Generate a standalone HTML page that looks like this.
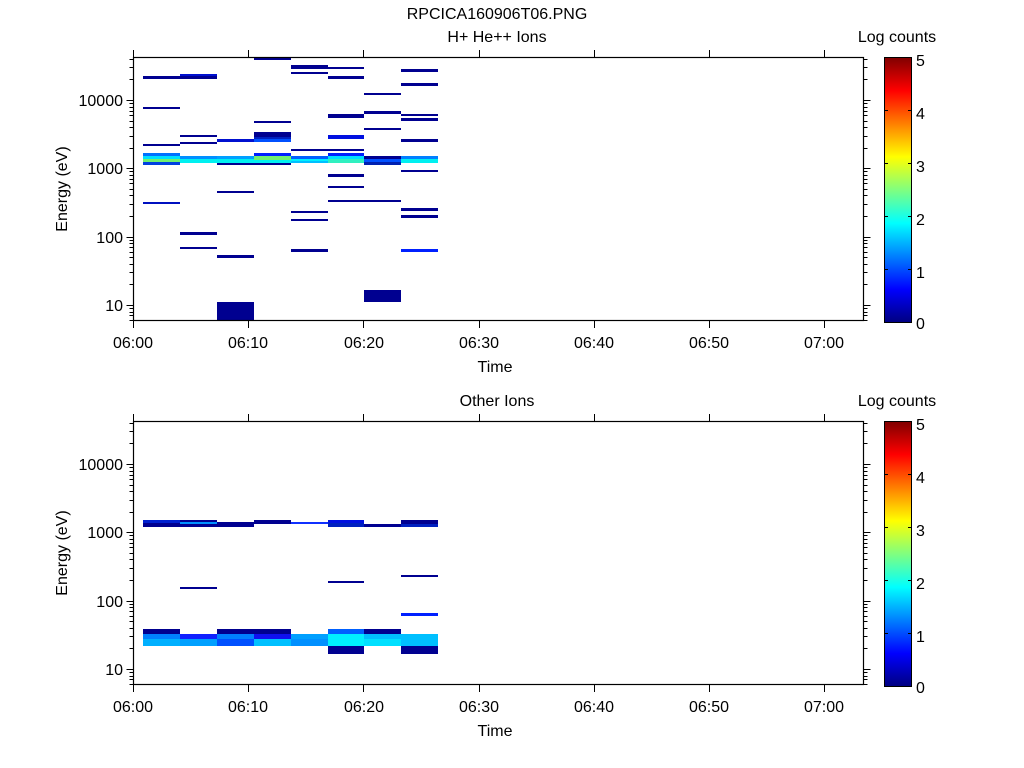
<!DOCTYPE html>
<html><head><meta charset="utf-8"><style>
html,body{margin:0;padding:0;background:#fff;width:1024px;height:768px;overflow:hidden}
svg{display:block}
text{font-family:"Liberation Sans",sans-serif;font-size:16px;fill:#000}
</style></head><body>
<svg id="s" width="1024" height="768" viewBox="0 0 1024 768">
<defs>
<linearGradient id="jet" x1="0" y1="1" x2="0" y2="0">
<stop offset="0" stop-color="#000080"/><stop offset="0.125" stop-color="#0000ff"/>
<stop offset="0.375" stop-color="#00ffff"/><stop offset="0.625" stop-color="#ffff00"/>
<stop offset="0.875" stop-color="#ff0000"/><stop offset="1" stop-color="#800000"/>
</linearGradient>
</defs>
<text x="497" y="19" text-anchor="middle">RPCICA160906T06.PNG</text>
<g id="b1" shape-rendering="crispEdges">
<rect x="143" y="76" width="37" height="3" fill="#000090"/>
<rect x="143" y="107" width="37" height="2" fill="#000090"/>
<rect x="143" y="144" width="37" height="2" fill="#000090"/>
<rect x="143" y="153" width="37" height="3" fill="#0070ff"/>
<rect x="143" y="156" width="37" height="3" fill="#00e0ff"/>
<rect x="143" y="159" width="37" height="3" fill="#70f070"/>
<rect x="143" y="162" width="37" height="3" fill="#0040e0"/>
<rect x="143" y="202" width="37" height="2" fill="#0010c0"/>

<rect x="180" y="74" width="37" height="2" fill="#0010d0"/>
<rect x="180" y="76" width="37" height="3" fill="#000090"/>
<rect x="180" y="135" width="37" height="2" fill="#000090"/>
<rect x="180" y="142" width="37" height="2" fill="#000090"/>
<rect x="180" y="156" width="37" height="3" fill="#0090ff"/>
<rect x="180" y="159" width="37" height="4" fill="#00f0f0"/>
<rect x="180" y="232" width="37" height="3" fill="#000090"/>
<rect x="180" y="247" width="37" height="2" fill="#000090"/>

<rect x="217" y="139" width="37" height="3" fill="#0010d0"/>
<rect x="217" y="156" width="37" height="3" fill="#00a0ff"/>
<rect x="217" y="159" width="37" height="4" fill="#00f0f0"/>
<rect x="217" y="163" width="37" height="2" fill="#000090"/>
<rect x="217" y="191" width="37" height="2" fill="#000090"/>
<rect x="217" y="255" width="37" height="3" fill="#000090"/>
<rect x="217" y="302" width="37" height="18" fill="#000090"/>

<rect x="254" y="57" width="37" height="3" fill="#000090"/>
<rect x="254" y="121" width="37" height="2" fill="#000090"/>
<rect x="254" y="132" width="37" height="5" fill="#000090"/>
<rect x="254" y="137" width="37" height="2" fill="#0020c0"/>
<rect x="254" y="139" width="37" height="3" fill="#0050ff"/>
<rect x="254" y="153" width="37" height="3" fill="#0020ff"/>
<rect x="254" y="156" width="37" height="4" fill="#70f070"/>
<rect x="254" y="160" width="37" height="3" fill="#00f0f0"/>
<rect x="254" y="163" width="37" height="2" fill="#000090"/>

<rect x="291" y="65" width="37" height="4" fill="#000090"/>
<rect x="291" y="72" width="37" height="2" fill="#000090"/>
<rect x="291" y="149" width="37" height="2" fill="#000090"/>
<rect x="291" y="156" width="37" height="3" fill="#0060ff"/>
<rect x="291" y="159" width="37" height="2" fill="#00f0ff"/>
<rect x="291" y="161" width="37" height="2" fill="#00c0ff"/>
<rect x="291" y="211" width="37" height="2" fill="#000090"/>
<rect x="291" y="219" width="37" height="2" fill="#000090"/>
<rect x="291" y="249" width="37" height="3" fill="#000090"/>

<rect x="328" y="67" width="36" height="2" fill="#000090"/>
<rect x="328" y="76" width="36" height="3" fill="#000090"/>
<rect x="328" y="114" width="36" height="4" fill="#000090"/>
<rect x="328" y="135" width="36" height="4" fill="#0010e0"/>
<rect x="328" y="149" width="36" height="2" fill="#000090"/>
<rect x="328" y="153" width="36" height="3" fill="#0020ff"/>
<rect x="328" y="156" width="36" height="3" fill="#00e0ff"/>
<rect x="328" y="159" width="36" height="4" fill="#30f0c0"/>
<rect x="328" y="174" width="36" height="3" fill="#000090"/>
<rect x="328" y="186" width="36" height="2" fill="#000090"/>
<rect x="328" y="200" width="36" height="2" fill="#000090"/>

<rect x="364" y="93" width="37" height="2" fill="#000090"/>
<rect x="364" y="111" width="37" height="3" fill="#000090"/>
<rect x="364" y="128" width="37" height="2" fill="#000090"/>
<rect x="364" y="156" width="37" height="3" fill="#000090"/>
<rect x="364" y="159" width="37" height="3" fill="#0050ff"/>
<rect x="364" y="162" width="37" height="3" fill="#0020b0"/>
<rect x="364" y="200" width="37" height="2" fill="#000090"/>
<rect x="364" y="290" width="37" height="12" fill="#000090"/>

<rect x="401" y="69" width="37" height="3" fill="#000090"/>
<rect x="401" y="83" width="37" height="3" fill="#000090"/>
<rect x="401" y="114" width="37" height="2" fill="#000090"/>
<rect x="401" y="118" width="37" height="3" fill="#000090"/>
<rect x="401" y="139" width="37" height="3" fill="#000090"/>
<rect x="401" y="156" width="37" height="3" fill="#0080ff"/>
<rect x="401" y="159" width="37" height="4" fill="#00f0f0"/>
<rect x="401" y="170" width="37" height="2" fill="#000090"/>
<rect x="401" y="208" width="37" height="3" fill="#000090"/>
<rect x="401" y="215" width="37" height="3" fill="#000090"/>
<rect x="401" y="249" width="37" height="3" fill="#0020ff"/>
</g>
<g shape-rendering="crispEdges">
<rect x="143" y="520" width="37" height="3" fill="#0020d0"/>
<rect x="143" y="523" width="37" height="4" fill="#000090"/>
<rect x="143" y="629" width="37" height="5" fill="#000090"/>
<rect x="143" y="634" width="37" height="5" fill="#0080ff"/>
<rect x="143" y="639" width="37" height="7" fill="#00b0ff"/>

<rect x="180" y="520" width="37" height="2" fill="#000090"/>
<rect x="180" y="522" width="37" height="2" fill="#0090ff"/>
<rect x="180" y="524" width="37" height="3" fill="#000090"/>
<rect x="180" y="587" width="37" height="2" fill="#000090"/>
<rect x="180" y="634" width="37" height="5" fill="#1020ff"/>
<rect x="180" y="639" width="37" height="7" fill="#00a0ff"/>

<rect x="217" y="522" width="37" height="5" fill="#000090"/>
<rect x="217" y="629" width="37" height="5" fill="#000090"/>
<rect x="217" y="634" width="37" height="5" fill="#0080ff"/>
<rect x="217" y="639" width="37" height="7" fill="#0050ff"/>

<rect x="254" y="520" width="37" height="4" fill="#000090"/>
<rect x="254" y="629" width="37" height="5" fill="#000090"/>
<rect x="254" y="634" width="37" height="5" fill="#1010f0"/>
<rect x="254" y="639" width="37" height="7" fill="#00c0ff"/>

<rect x="291" y="522" width="37" height="2" fill="#1030ff"/>
<rect x="291" y="634" width="37" height="5" fill="#00a0ff"/>
<rect x="291" y="639" width="37" height="7" fill="#0090ff"/>

<rect x="328" y="520" width="36" height="3" fill="#0010e0"/>
<rect x="328" y="523" width="36" height="4" fill="#0020c0"/>
<rect x="328" y="581" width="36" height="2" fill="#000090"/>
<rect x="328" y="629" width="36" height="5" fill="#0060ff"/>
<rect x="328" y="634" width="36" height="12" fill="#00f0ff"/>
<rect x="328" y="646" width="36" height="8" fill="#000090"/>

<rect x="364" y="524" width="37" height="3" fill="#000090"/>
<rect x="364" y="629" width="37" height="5" fill="#000090"/>
<rect x="364" y="634" width="37" height="5" fill="#00c0ff"/>
<rect x="364" y="639" width="37" height="7" fill="#00e0ff"/>

<rect x="401" y="520" width="37" height="4" fill="#000090"/>
<rect x="401" y="524" width="37" height="3" fill="#0020c0"/>
<rect x="401" y="575" width="37" height="2" fill="#000090"/>
<rect x="401" y="613" width="37" height="3" fill="#0020ff"/>
<rect x="401" y="634" width="37" height="12" fill="#00c0ff"/>
<rect x="401" y="646" width="37" height="8" fill="#000090"/>
</g>

<g id="ax1"></g>
<g id="ax2" transform="translate(0,364)"></g>

<text x="497" y="42" text-anchor="middle">H+ He++ Ions</text>
<text x="897" y="42" text-anchor="middle">Log counts</text>
<text x="123" y="106" text-anchor="end">10000</text>
<text x="123" y="174" text-anchor="end">1000</text>
<text x="123" y="243" text-anchor="end">100</text>
<text x="123" y="311" text-anchor="end">10</text>
<text transform="translate(67,189) rotate(-90)" text-anchor="middle">Energy (eV)</text>
<text x="133" y="348" text-anchor="middle">06:00</text>
<text x="248" y="348" text-anchor="middle">06:10</text>
<text x="364" y="348" text-anchor="middle">06:20</text>
<text x="479" y="348" text-anchor="middle">06:30</text>
<text x="594" y="348" text-anchor="middle">06:40</text>
<text x="709" y="348" text-anchor="middle">06:50</text>
<text x="824" y="348" text-anchor="middle">07:00</text>
<text x="495" y="372" text-anchor="middle">Time</text>
<text x="916" y="66">5</text><text x="916" y="119">4</text><text x="916" y="172">3</text>
<text x="916" y="225">2</text><text x="916" y="278">1</text><text x="916" y="329">0</text>
<text x="497" y="406" text-anchor="middle">Other Ions</text>
<text x="897" y="406" text-anchor="middle">Log counts</text>
<text x="123" y="470" text-anchor="end">10000</text>
<text x="123" y="538" text-anchor="end">1000</text>
<text x="123" y="607" text-anchor="end">100</text>
<text x="123" y="675" text-anchor="end">10</text>
<text transform="translate(67,553) rotate(-90)" text-anchor="middle">Energy (eV)</text>
<text x="133" y="712" text-anchor="middle">06:00</text>
<text x="248" y="712" text-anchor="middle">06:10</text>
<text x="364" y="712" text-anchor="middle">06:20</text>
<text x="479" y="712" text-anchor="middle">06:30</text>
<text x="594" y="712" text-anchor="middle">06:40</text>
<text x="709" y="712" text-anchor="middle">06:50</text>
<text x="824" y="712" text-anchor="middle">07:00</text>
<text x="495" y="736" text-anchor="middle">Time</text>
<text x="916" y="430">5</text><text x="916" y="483">4</text><text x="916" y="536">3</text>
<text x="916" y="589">2</text><text x="916" y="642">1</text><text x="916" y="693">0</text>
</svg>
<script>
var NS="http://www.w3.org/2000/svg";
function el(p,t,a){var e=document.createElementNS(NS,t);for(var k in a)e.setAttribute(k,a[k]);p.appendChild(e);return e;}
["ax1","ax2"].forEach(function(id){
 var g=document.getElementById(id);
 el(g,"rect",{x:133.5,y:57.5,width:730,height:263,fill:"none",stroke:"#000","stroke-width":1.2});
 var xs=[133,248.2,363.4,478.6,593.8,709,824.2];
 xs.forEach(function(x){x=Math.round(x)+0.5;
  el(g,"line",{x1:x,y1:320.5,x2:x,y2:328,stroke:"#000"});
  el(g,"line",{x1:x,y1:57.5,x2:x,y2:50,stroke:"#000"});});
 for(var d=0;d<=4;d++){for(var m=1;m<=9;m++){
  var v=d+Math.log10(m);var y=100+68.3*(4-v);
  if(y<57.5||y>320.5)continue;y=Math.round(y)+0.5;var L=m==1?7:4;
  el(g,"line",{x1:133.5,y1:y,x2:133.5-L,y2:y,stroke:"#000"});
  el(g,"line",{x1:863.5,y1:y,x2:863.5+L,y2:y,stroke:"#000"});}}
 el(g,"rect",{x:884.5,y:57.5,width:27,height:265,fill:"url(#jet)",stroke:"#000"});
 for(var k=1;k<5;k++){var y=Math.round(322-53*k)+0.5;
  el(g,"line",{x1:884.5,y1:y,x2:888,y2:y,stroke:"#000"});
  el(g,"line",{x1:911.5,y1:y,x2:908,y2:y,stroke:"#000"});}
});
</script>
</body></html>
